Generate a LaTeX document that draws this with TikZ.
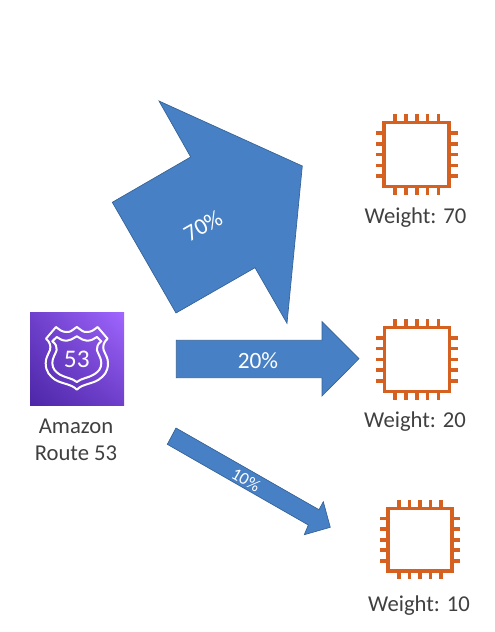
\documentclass[tikz,border=0pt]{standalone}
\usepackage{fontspec}
\setmainfont{Carlito}
\usepackage{xcolor}
\usetikzlibrary{shadings}
\definecolor{arrowblue}{RGB}{71,128,196}
\definecolor{arrowedge}{RGB}{52,98,150}
\definecolor{chiporange}{RGB}{214,96,32}
\definecolor{labelgrey}{RGB}{64,64,64}
\definecolor{routedark}{RGB}{77,39,168}
\definecolor{routelight}{RGB}{161,102,255}
\tikzset{
  flowarrow/.style={draw=arrowedge,fill=arrowblue,line width=0.5pt,line join=miter},
  textlabel/.style={inner sep=0.75pt,color=labelgrey,font=\fontsize{17}{20}\selectfont,align=center},
  flowlabel/.style={inner sep=0.75pt,color=white,font=\fontsize{17.5}{20}\selectfont},
  shieldline/.style={draw=white,line width=1.5pt,line join=round},
  chipicon/.pic={
    \draw [chiporange,line width=2.7pt] (-32.5,-32) rectangle (32.5,32);
    \foreach \pinpos in {-21.6,-10.8,0,10.8,21.6}{
      \draw [chiporange,line width=2.7pt] (\pinpos,-32) -- (\pinpos,-40.5) (\pinpos,32) -- (\pinpos,40.5);
      \draw [chiporange,line width=2.7pt] (-32.5,\pinpos) -- (-41,\pinpos) (32.5,\pinpos) -- (41,\pinpos);
    }
  }
}
\begin{document}
\begin{tikzpicture}[x=0.75pt,y=0.75pt,yscale=-1,xscale=1]
\useasboundingbox (0,0) rectangle (494,632);

%Shape: Arrow 70
\draw [flowarrow] (159,101) -- (302.3,166) -- (287,323.3) -- (255,267.7) -- (176,313) -- (112.3,202.3) -- (190.7,157) -- cycle ;
%Shape: Arrow 20
\draw [flowarrow] (176.3,340.3) -- (322,340.3) -- (322,321.7) -- (359,358.7) -- (322,396) -- (322,377.7) -- (176.3,377.7) -- cycle ;
%Shape: Arrow 10
\draw [flowarrow] (176,428) -- (319,509.7) -- (323.3,501.7) -- (330.3,527.3) -- (304.3,534.7) -- (308.3,525) -- (167.3,444.3) -- cycle ;

%Shape: Route 53 icon
\shade [lower left=routedark,lower right=routedark!60!routelight,upper left=routedark!60!routelight,upper right=routelight] (30,312) rectangle (124,405);
\draw [shieldline] (76.8,327) .. controls (71,331) and (71,332) .. (66.7,332) .. controls (62,332) and (60,330) .. (56,327) -- (46,338.7) .. controls (50,342) and (51,346) .. (50,350) .. controls (48,355) and (45.7,358) .. (45.7,363) .. controls (45.7,372) and (50,376) .. (55,379.7) .. controls (62,384) and (72,384) .. (76.8,389.7) .. controls (82,384) and (92,384) .. (98.6,379.7) .. controls (104,376) and (108,372) .. (108,363) .. controls (108,358) and (105.6,355) .. (103.6,350) .. controls (102.6,346) and (103.6,342) .. (107.6,338.7) -- (97.6,327) .. controls (93.6,330) and (91.6,332) .. (86.9,332) .. controls (82.6,332) and (82.6,331) .. (76.8,327) -- cycle ;
\draw [shieldline] (76.8,336.3) .. controls (72,339) and (70,340.7) .. (66.7,340.7) .. controls (62,340.7) and (60,339) .. (56.7,337) -- (52.3,341.3) .. controls (56,344) and (57,347) .. (56.7,350) .. controls (55.5,354) and (52.3,358) .. (52.3,363) .. controls (52.3,369) and (56,372) .. (60,374.7) .. controls (66,378) and (72,378) .. (76.8,382) .. controls (82,378) and (88,378) .. (93.6,374.7) .. controls (98,372) and (101.3,369) .. (101.3,363) .. controls (101.3,358) and (98,354) .. (96.9,350) .. controls (96.6,347) and (97.6,344) .. (101.3,341.3) -- (96.9,337) .. controls (93.6,339) and (91.6,340.7) .. (86.9,340.7) .. controls (83.6,340.7) and (81.6,339) .. (76.8,336.3) -- cycle ;

%Shape: Instance icons
\draw (416.7,154.5) pic {chipicon};
\draw (416.8,359.3) pic {chipicon};
\draw (420,539.7) pic [scale=0.98] {chipicon};

% Text Node
\node (routenum) at (76.8,359) [inner sep=0pt,color=white,font=\fontsize{19}{22}\selectfont] {53};
% Text Node
\node (routename) at (76,439.5) [textlabel] {Amazon\\Route 53};
% Text Node
\node (weighta) at (415.5,218) [textlabel] {Weight: 70};
% Text Node
\node (weightb) at (415,422) [textlabel] {Weight: 20};
% Text Node
\node (weightc) at (419,606) [textlabel] {Weight: 10};
% Text Node
\node (flowa) at (203,226) [flowlabel,rotate=30] {70\%};
% Text Node
\node (flowb) at (258,361) [flowlabel] {20\%};
% Text Node
\node (flowc) at (246,480) [flowlabel,rotate=-30,font=\fontsize{13}{15}\selectfont] {10\%};

\end{tikzpicture}
\end{document}
